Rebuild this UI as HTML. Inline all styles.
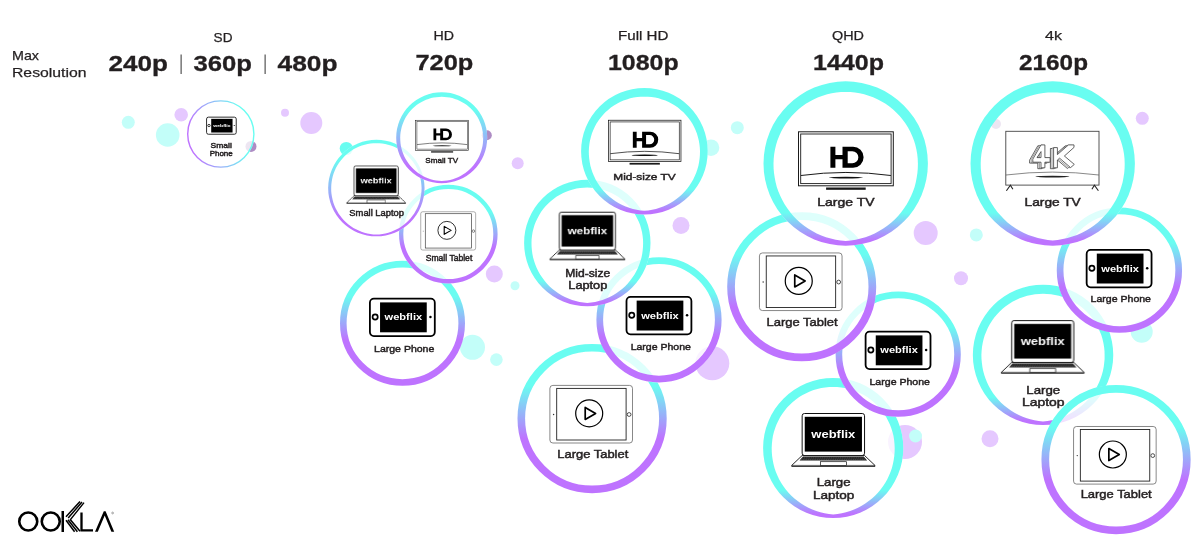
<!DOCTYPE html>
<html lang="en"><head><meta charset="utf-8"><title>Max Resolution by Device</title>
<style>
html,body{margin:0;padding:0;background:#fff;width:1200px;height:550px;overflow:hidden}
svg{display:block;will-change:transform}
text{font-family:"Liberation Sans",sans-serif;fill:#231f20}
.b{font-weight:bold;stroke:#231f20;stroke-width:0.3px}
.l{stroke:#231f20;stroke-width:0.45px;paint-order:stroke;text-anchor:middle}
.r{stroke:#231f20;stroke-width:0.25px}
.m{text-anchor:middle}
.wf{font-weight:bold;fill:#fff;text-anchor:middle}
</style></head><body>
<svg width="1200" height="550" viewBox="0 0 1200 550">
<defs>
<linearGradient id="gA" x1="0" y1="0" x2="0" y2="1"><stop offset="0.27" stop-color="#69fdf1"/><stop offset="0.64" stop-color="#be73ff"/></linearGradient>
<linearGradient id="gB" x1="0" y1="0" x2="0" y2="1"><stop offset="0.8" stop-color="#69fdf1"/><stop offset="0.97" stop-color="#be73ff"/></linearGradient>
<linearGradient id="gS" x1="0" y1="0" x2="0" y2="1"><stop offset="0.2" stop-color="#69fdf1"/><stop offset="0.8" stop-color="#be73ff"/></linearGradient>
<linearGradient id="gD" x1="0" y1="0" x2="0" y2="1"><stop offset="0.3" stop-color="#69fdf1"/><stop offset="0.75" stop-color="#be73ff"/></linearGradient>
<linearGradient id="gH" x1="0" y1="0.6" x2="1" y2="0.4"><stop offset="0.05" stop-color="#be73ff"/><stop offset="0.85" stop-color="#69fdf1"/></linearGradient>
<g id="tvhd">
<rect x="-47.4" y="-27" width="94.8" height="54" fill="#fff" stroke="#1a1a1a" stroke-width="1"/>
<rect x="-45.2" y="-24.8" width="90.4" height="49.6" fill="none" stroke="#1a1a1a" stroke-width="0.9"/>
<path d="M-45,16.7 Q0,10.6 45,16.7" fill="none" stroke="#1a1a1a" stroke-width="1"/>
<ellipse cx="0" cy="18.8" rx="17" ry="0.9" fill="#111"/>
<rect x="-19.8" y="28.7" width="39.6" height="2.3" fill="#1a1a1a"/>
<path fill="#000" fill-rule="evenodd" d="M-15.5,-12.1 h5 v8.2 h7.1 v-8.2 H7.15 A10.55,10.55 0 0 1 7.15,9 H-3.4 v-8.5 h-7.1 V9 h-5 Z M1.8,-7.6 V4.5 H6.4 A6.05,6.05 0 0 0 6.4,-7.6 Z"/>
</g>
<g id="tv4k">
<rect x="-46.6" y="-26.9" width="93.2" height="53.8" fill="#fff" stroke="#444" stroke-width="0.9"/>
<path d="M-46.5,16.8 Q0,11 46.5,16.8" fill="none" stroke="#555" stroke-width="0.7"/>
<ellipse cx="0" cy="18.4" rx="17" ry="0.8" fill="#222"/>
<path d="M-46,32.5 L-42,27 L-39.5,31" fill="none" stroke="#222" stroke-width="1.1"/>
<path d="M46,32.5 L42,27 L39.5,31" fill="none" stroke="#222" stroke-width="1.1"/>
<g fill="#fff" stroke="#333" stroke-width="0.75" stroke-linejoin="round" fill-rule="evenodd">
<path transform="translate(-3.2,0.9)" d="M-11.4,-13.3 L-7.5,-13.3 L-7.5,-0.6 L-2.3,-0.6 L-2.3,4.0 L-7.5,4.0 L-7.5,9.6 L-11.4,9.6 L-11.4,4.0 L-19.6,4.0 L-19.6,1.0 Z M-11.4,-6.6 L-11.4,-0.6 L-15.4,-0.6 Z M1.2,-10.6 L5.0,-10.6 L5.0,-3.6 L16.1,-13.3 L21.6,-13.3 L21.6,-10.8 L12.0,-2.2 L21.9,6.2 L18.2,9.4 L7.2,0.0 L5.0,1.8 L5.0,9.6 L1.2,9.6 Z"/>
<path transform="translate(-1.6,0.45)" d="M-11.4,-13.3 L-7.5,-13.3 L-7.5,-0.6 L-2.3,-0.6 L-2.3,4.0 L-7.5,4.0 L-7.5,9.6 L-11.4,9.6 L-11.4,4.0 L-19.6,4.0 L-19.6,1.0 Z M-11.4,-6.6 L-11.4,-0.6 L-15.4,-0.6 Z M1.2,-10.6 L5.0,-10.6 L5.0,-3.6 L16.1,-13.3 L21.6,-13.3 L21.6,-10.8 L12.0,-2.2 L21.9,6.2 L18.2,9.4 L7.2,0.0 L5.0,1.8 L5.0,9.6 L1.2,9.6 Z" stroke-width="0.5"/>
<path d="M-11.4,-13.3 L-7.5,-13.3 L-7.5,-0.6 L-2.3,-0.6 L-2.3,4.0 L-7.5,4.0 L-7.5,9.6 L-11.4,9.6 L-11.4,4.0 L-19.6,4.0 L-19.6,1.0 Z M-11.4,-6.6 L-11.4,-0.6 L-15.4,-0.6 Z M1.2,-10.6 L5.0,-10.6 L5.0,-3.6 L16.1,-13.3 L21.6,-13.3 L21.6,-10.8 L12.0,-2.2 L21.9,6.2 L18.2,9.4 L7.2,0.0 L5.0,1.8 L5.0,9.6 L1.2,9.6 Z"/>
</g>
</g>
<g id="laptop">
<rect x="-31.2" y="-25.5" width="62.4" height="42" rx="2.3" fill="#fff" stroke="#111" stroke-width="1"/>
<rect x="-28.6" y="-22.2" width="57.2" height="34.8" fill="#000"/>
<path d="M-31.2,16.5 H31.2 L41.6,26.4 V27.4 H-41.6 V26.4 Z" fill="#fff" stroke="#111" stroke-width="0.9" stroke-linejoin="round"/>
<path d="M-41.6,26.4 H41.6" stroke="#111" stroke-width="0.6"/>
<path d="M-30.4,17.5 H30.4 L33.8,21.6 H-33.8 Z" fill="#1c1c1c"/>
<path d="M-31.4,18.9 H31.4 M-32.6,20.3 H32.6" stroke="#aaa" stroke-width="0.35" stroke-dasharray="1.3,0.5"/>
<rect x="-13" y="22.7" width="26" height="3.8" fill="#fff" stroke="#111" stroke-width="0.7"/>
<text class="wf" x="0" y="-1.5" font-size="11.4" textLength="44" lengthAdjust="spacingAndGlyphs">webflix</text>
</g>
<g id="tablet">
<rect x="-41.3" y="-28.8" width="82.6" height="57.6" rx="3" fill="#fff" stroke="#555" stroke-width="0.7"/>
<rect x="-34.5" y="-25.8" width="69.4" height="51.6" fill="#fff" stroke="#222" stroke-width="0.9"/>
<circle cx="-2" cy="-0.8" r="13.5" fill="none" stroke="#000" stroke-width="1.2"/>
<path d="M-6,-6.8 L4.4,-0.8 L-6,5.2 Z" fill="none" stroke="#000" stroke-width="1.7" stroke-linejoin="round"/>
<circle cx="-37.6" cy="0.3" r="0.7" fill="#333"/>
<circle cx="37.9" cy="0.3" r="1.9" fill="#fff" stroke="#222" stroke-width="0.8"/>
</g>
<g id="phone">
<rect x="-32.45" y="-18.7" width="64.9" height="37.4" rx="4" fill="#fff" stroke="#000" stroke-width="1.8"/>
<rect x="-22.3" y="-15" width="46.7" height="29.9" fill="#000"/>
<circle cx="-27.2" cy="-0.4" r="2.6" fill="#fff" stroke="#000" stroke-width="1.7"/>
<circle cx="28.1" cy="-0.4" r="1.25" fill="#000"/>
<text class="wf" x="1" y="3" font-size="9.4" textLength="37.6" lengthAdjust="spacingAndGlyphs">webflix</text>
</g>
</defs>
<g id="dots">
<circle cx="128.3" cy="122.3" r="6.5" fill="#c3fef9"/>
<circle cx="167.7" cy="135" r="11.8" fill="#c3fef9"/>
<circle cx="181.2" cy="114.8" r="6.8" fill="#e5c8ff"/>
<circle cx="251" cy="146.4" r="5.5" fill="#ae8cc4"/>
<circle cx="285" cy="112.8" r="4" fill="#e5c8ff"/>
<circle cx="311.3" cy="123" r="11" fill="#e5c8ff"/>
<circle cx="346.3" cy="148.5" r="6.6" fill="#69fdf1"/>
<circle cx="486.8" cy="135.2" r="5" fill="#ae8cc4"/>
<circle cx="494.3" cy="274" r="8.5" fill="#e5c8ff"/>
<circle cx="515" cy="285.7" r="4.5" fill="#c3fef9"/>
<circle cx="472.5" cy="347.3" r="12.5" fill="#c3fef9"/>
<circle cx="496.4" cy="359.6" r="6.3" fill="#c3fef9"/>
<circle cx="517.7" cy="163.3" r="6" fill="#e5c8ff"/>
<circle cx="681" cy="225.5" r="8.5" fill="#e5c8ff"/>
<circle cx="711" cy="147.7" r="8.3" fill="#c3fef9"/>
<circle cx="737.3" cy="127.7" r="6.5" fill="#c3fef9"/>
<circle cx="712.3" cy="363.3" r="17" fill="#e5c8ff"/>
<circle cx="925.7" cy="233.1" r="12" fill="#e5c8ff"/>
<circle cx="976.3" cy="234.9" r="6.5" fill="#c3fef9"/>
<circle cx="961" cy="278.3" r="7" fill="#e5c8ff"/>
<circle cx="996" cy="124" r="5" fill="#ae8cc4"/>
<circle cx="1142.3" cy="118.3" r="6.5" fill="#e5c8ff"/>
<circle cx="1141.7" cy="331.7" r="11" fill="#c3fef9"/>
<circle cx="990" cy="438.7" r="8.5" fill="#e5c8ff"/>
<circle cx="905" cy="442" r="17" fill="#e5c8ff"/>
<circle cx="915.5" cy="436" r="6.5" fill="#c3fef9"/>
</g>
<g id="b-sp">
<circle cx="220.8" cy="134" r="33.8" fill="#fff" fill-opacity="0.78"/>
<circle cx="220.8" cy="134" r="33.1" fill="none" stroke="url(#gH)" stroke-width="1.4"/>
<use href="#phone" transform="translate(221.4,125.7) scale(0.457)"/>
<text class="l" x="221.2" y="147.5" font-size="7.5" textLength="21.2" lengthAdjust="spacingAndGlyphs">Small</text>
<text class="l" x="221.2" y="155.5" font-size="7.5" textLength="23.1" lengthAdjust="spacingAndGlyphs">Phone</text>
</g>
<g id="b-lph7">
<circle cx="402.5" cy="323.3" r="62.5" fill="#fff" fill-opacity="0.78"/>
<circle cx="402.5" cy="323.3" r="59.2" fill="none" stroke="url(#gA)" stroke-width="6.6"/>
<use href="#phone" transform="translate(402.35,317.4) scale(1)"/>
<text class="l" x="404.2" y="351.7" font-size="9.5" textLength="60.3" lengthAdjust="spacingAndGlyphs">Large Phone</text>
</g>
<g id="b-stab">
<circle cx="448.3" cy="234.1" r="49.3" fill="#fff" fill-opacity="0.78"/>
<circle cx="448.3" cy="234.1" r="47.15" fill="none" stroke="url(#gA)" stroke-width="4.3"/>
<use href="#tablet" transform="translate(448.2,230.9) scale(0.665)"/>
<text class="l" x="449" y="260.6" font-size="8.2" textLength="46.6" lengthAdjust="spacingAndGlyphs">Small Tablet</text>
</g>
<g id="b-slap">
<circle cx="376.35" cy="188.1" r="48.2" fill="#fff" fill-opacity="0.78"/>
<path fill-rule="evenodd" fill="url(#gS)" d="M328.15000000000003,188.1 a48.2,48.2 0 1,0 96.4,0 a48.2,48.2 0 1,0 -96.4,0 Z M376.4,143.2 L379.3,143.3 L382.2,143.6 L385.1,144.0 L388.0,144.7 L390.8,145.5 L393.6,146.5 L396.2,147.8 L398.9,149.1 L401.4,150.7 L403.8,152.4 L406.0,154.2 L408.2,156.2 L410.2,158.4 L412.1,160.7 L413.8,163.1 L415.4,165.5 L416.8,168.1 L418.0,170.8 L419.1,173.6 L420.0,176.4 L420.6,179.3 L421.1,182.2 L421.4,185.1 L421.6,188.1 L421.5,191.1 L421.2,194.0 L420.7,196.9 L420.1,199.8 L419.3,202.7 L418.3,205.5 L417.1,208.2 L415.7,210.8 L414.2,213.4 L412.5,215.8 L410.6,218.2 L408.6,220.4 L406.5,222.5 L404.2,224.4 L401.8,226.2 L399.3,227.9 L396.7,229.3 L394.0,230.6 L391.2,231.8 L388.3,232.7 L385.4,233.5 L382.4,234.0 L379.4,234.4 L376.4,234.6 L373.3,234.4 L370.3,234.0 L367.3,233.5 L364.4,232.7 L361.5,231.8 L358.7,230.6 L356.0,229.3 L353.4,227.9 L350.9,226.2 L348.5,224.4 L346.2,222.5 L344.1,220.4 L342.1,218.2 L340.2,215.8 L338.5,213.4 L337.0,210.8 L335.6,208.2 L334.4,205.5 L333.4,202.7 L332.6,199.8 L332.0,196.9 L331.5,194.0 L331.2,191.1 L331.2,188.1 L331.3,185.1 L331.6,182.2 L332.1,179.3 L332.7,176.4 L333.6,173.6 L334.7,170.8 L335.9,168.1 L337.3,165.5 L338.9,163.1 L340.6,160.7 L342.5,158.4 L344.5,156.2 L346.7,154.2 L348.9,152.4 L351.3,150.7 L353.9,149.1 L356.5,147.8 L359.1,146.5 L361.9,145.5 L364.7,144.7 L367.6,144.0 L370.5,143.6 L373.4,143.3 Z"/>
<use href="#laptop" transform="translate(376.15,184.05) scale(0.708)"/>
<text class="l" x="376.7" y="215.6" font-size="8.6" textLength="54.7" lengthAdjust="spacingAndGlyphs">Small Laptop</text>
</g>
<g id="b-stv">
<circle cx="441.7" cy="137.75" r="45.5" fill="#fff" fill-opacity="0.78"/>
<path fill-rule="evenodd" fill="url(#gS)" d="M396.2,137.75 a45.5,45.5 0 1,0 91.0,0 a45.5,45.5 0 1,0 -91.0,0 Z M441.7,96.8 L444.4,96.9 L447.0,97.2 L449.7,97.6 L452.3,98.1 L454.9,98.9 L457.4,99.8 L459.9,100.9 L462.2,102.2 L464.5,103.6 L466.8,105.1 L468.8,106.8 L470.8,108.6 L472.7,110.6 L474.4,112.6 L476.0,114.8 L477.5,117.1 L478.8,119.5 L479.9,121.9 L480.9,124.5 L481.7,127.0 L482.3,129.7 L482.8,132.3 L483.1,135.0 L483.2,137.8 L483.1,140.5 L482.9,143.2 L482.5,145.9 L481.9,148.5 L481.2,151.1 L480.2,153.7 L479.2,156.2 L477.9,158.7 L476.5,161.0 L475.0,163.3 L473.3,165.5 L471.5,167.5 L469.5,169.5 L467.5,171.3 L465.3,173.0 L462.9,174.5 L460.5,175.9 L458.0,177.2 L455.4,178.2 L452.8,179.2 L450.1,179.9 L447.3,180.5 L444.5,180.8 L441.7,181.1 L438.9,180.8 L436.1,180.5 L433.3,179.9 L430.6,179.2 L428.0,178.2 L425.4,177.2 L422.9,175.9 L420.5,174.5 L418.1,173.0 L415.9,171.3 L413.9,169.5 L411.9,167.5 L410.1,165.5 L408.4,163.3 L406.9,161.0 L405.5,158.7 L404.2,156.2 L403.2,153.7 L402.2,151.1 L401.5,148.5 L400.9,145.9 L400.5,143.2 L400.3,140.5 L400.2,137.8 L400.3,135.0 L400.6,132.3 L401.1,129.7 L401.7,127.0 L402.5,124.5 L403.5,121.9 L404.6,119.5 L405.9,117.1 L407.4,114.8 L409.0,112.6 L410.7,110.6 L412.6,108.6 L414.6,106.8 L416.6,105.1 L418.9,103.6 L421.1,102.2 L423.5,100.9 L426.0,99.8 L428.5,98.9 L431.1,98.1 L433.7,97.6 L436.4,97.2 L439.0,96.9 Z"/>
<use href="#tvhd" transform="translate(442.1,135.3) scale(0.557)"/>
<text class="l" x="441.7" y="163.1" font-size="8" textLength="32.7" lengthAdjust="spacingAndGlyphs">Small TV</text>
</g>
<g id="b-ltab10">
<circle cx="592.1" cy="418.6" r="74.6" fill="#fff" fill-opacity="0.78"/>
<circle cx="592.1" cy="418.6" r="70.8" fill="none" stroke="url(#gA)" stroke-width="7.6"/>
<use href="#tablet" transform="translate(591.2,414.2) scale(1.0)"/>
<text class="l" x="592.8" y="458.3" font-size="11" textLength="71" lengthAdjust="spacingAndGlyphs">Large Tablet</text>
</g>
<g id="b-lph10">
<circle cx="659" cy="319.8" r="62.6" fill="#fff" fill-opacity="0.78"/>
<circle cx="659" cy="319.8" r="59.25" fill="none" stroke="url(#gA)" stroke-width="6.7"/>
<use href="#phone" transform="translate(658.95,315.6) scale(1)"/>
<text class="l" x="660.8" y="350.0" font-size="9.5" textLength="60.3" lengthAdjust="spacingAndGlyphs">Large Phone</text>
</g>
<g id="b-mlap">
<circle cx="587.3" cy="243" r="63.2" fill="#fff" fill-opacity="0.78"/>
<path fill-rule="evenodd" fill="url(#gB)" d="M524.0999999999999,243 a63.2,63.2 0 1,0 126.4,0 a63.2,63.2 0 1,0 -126.4,0 Z M587.3,187.6 L590.9,187.7 L594.5,188.0 L598.1,188.6 L601.7,189.4 L605.1,190.5 L608.5,191.7 L611.9,193.2 L615.1,194.9 L618.2,196.8 L621.1,198.9 L623.9,201.2 L626.6,203.7 L629.1,206.3 L631.4,209.1 L633.6,212.1 L635.5,215.2 L637.2,218.4 L638.8,221.7 L640.1,225.1 L641.1,228.6 L642.0,232.1 L642.6,235.7 L643.0,239.4 L643.1,243.0 L643.0,246.7 L642.7,250.3 L642.2,253.9 L641.5,257.5 L640.5,261.1 L639.3,264.5 L637.9,268.0 L636.3,271.3 L634.5,274.5 L632.4,277.6 L630.2,280.6 L627.8,283.5 L625.2,286.2 L622.4,288.7 L619.4,291.1 L616.3,293.3 L613.1,295.2 L609.7,297.0 L606.2,298.6 L602.5,299.9 L598.8,301.0 L595.1,301.9 L591.2,302.5 L587.3,302.9 L583.4,302.5 L579.5,301.9 L575.8,301.0 L572.1,299.9 L568.4,298.6 L564.9,297.0 L561.5,295.2 L558.3,293.3 L555.2,291.1 L552.2,288.7 L549.4,286.2 L546.8,283.5 L544.4,280.6 L542.2,277.6 L540.1,274.5 L538.3,271.3 L536.7,268.0 L535.3,264.5 L534.1,261.1 L533.1,257.5 L532.4,253.9 L531.9,250.3 L531.6,246.7 L531.5,243.0 L531.6,239.4 L532.0,235.7 L532.6,232.1 L533.5,228.6 L534.5,225.1 L535.8,221.7 L537.4,218.4 L539.1,215.2 L541.0,212.1 L543.2,209.1 L545.5,206.3 L548.0,203.7 L550.7,201.2 L553.5,198.9 L556.4,196.8 L559.5,194.9 L562.7,193.2 L566.1,191.7 L569.5,190.5 L572.9,189.4 L576.5,188.6 L580.1,188.0 L583.7,187.7 Z"/>
<use href="#laptop" transform="translate(587.4,235.15) scale(0.9)"/>
<text class="l" x="587.8" y="277.3" font-size="10.3" textLength="45" lengthAdjust="spacingAndGlyphs">Mid-size</text>
<text class="l" x="587.8" y="289.3" font-size="10.3" textLength="39" lengthAdjust="spacingAndGlyphs">Laptop</text>
</g>
<g id="b-mtv">
<circle cx="644.4" cy="151.25" r="63.3" fill="#fff" fill-opacity="0.78"/>
<path fill-rule="evenodd" fill="url(#gB)" d="M581.1,151.25 a63.3,63.3 0 1,0 126.6,0 a63.3,63.3 0 1,0 -126.6,0 Z M644.4,96.7 L648.0,96.7 L651.5,97.0 L655.1,97.6 L658.6,98.3 L662.0,99.4 L665.4,100.6 L668.7,102.0 L671.9,103.7 L674.9,105.5 L677.9,107.6 L680.7,109.9 L683.4,112.3 L685.9,114.9 L688.2,117.7 L690.3,120.6 L692.3,123.6 L694.0,126.8 L695.5,130.1 L696.9,133.4 L697.9,136.9 L698.8,140.4 L699.4,144.0 L699.8,147.6 L700.0,151.2 L699.9,154.9 L699.6,158.5 L699.1,162.1 L698.4,165.7 L697.4,169.2 L696.2,172.7 L694.8,176.1 L693.2,179.4 L691.4,182.6 L689.3,185.7 L687.1,188.7 L684.7,191.5 L682.1,194.2 L679.3,196.7 L676.4,199.1 L673.3,201.2 L670.0,203.2 L666.6,205.0 L663.2,206.5 L659.6,207.8 L655.9,208.9 L652.1,209.8 L648.3,210.4 L644.4,210.8 L640.5,210.4 L636.7,209.8 L632.9,208.9 L629.2,207.8 L625.6,206.5 L622.2,205.0 L618.8,203.2 L615.5,201.2 L612.4,199.1 L609.5,196.7 L606.7,194.2 L604.1,191.5 L601.7,188.7 L599.5,185.7 L597.4,182.6 L595.6,179.4 L594.0,176.1 L592.6,172.7 L591.4,169.2 L590.4,165.7 L589.7,162.1 L589.2,158.5 L588.9,154.9 L588.8,151.2 L589.0,147.6 L589.4,144.0 L590.0,140.4 L590.9,136.9 L591.9,133.4 L593.3,130.1 L594.8,126.8 L596.5,123.6 L598.5,120.6 L600.6,117.7 L602.9,114.9 L605.4,112.3 L608.1,109.9 L610.9,107.6 L613.9,105.5 L616.9,103.7 L620.1,102.0 L623.4,100.6 L626.8,99.4 L630.2,98.3 L633.7,97.6 L637.3,97.0 L640.8,96.7 Z"/>
<use href="#tvhd" transform="translate(644.7,140.9) scale(0.765)"/>
<text class="l" x="644.5" y="180.0" font-size="9.3" textLength="62.4" lengthAdjust="spacingAndGlyphs">Mid-size TV</text>
</g>
<g id="b-llap14">
<circle cx="833.2" cy="448" r="70.1" fill="#fff" fill-opacity="0.78"/>
<path fill-rule="evenodd" fill="url(#gB)" d="M763.1,448 a70.1,70.1 0 1,0 140.2,0 a70.1,70.1 0 1,0 -140.2,0 Z M833.2,387.0 L837.2,387.1 L841.2,387.5 L845.1,388.1 L849.0,389.0 L852.8,390.1 L856.6,391.5 L860.2,393.2 L863.8,395.0 L867.2,397.1 L870.5,399.4 L873.6,402.0 L876.5,404.7 L879.3,407.6 L881.8,410.7 L884.2,413.9 L886.3,417.3 L888.2,420.9 L889.9,424.5 L891.3,428.3 L892.5,432.1 L893.5,436.0 L894.1,440.0 L894.5,444.0 L894.7,448.0 L894.6,452.0 L894.3,456.0 L893.7,460.0 L892.9,464.0 L891.9,467.9 L890.6,471.8 L889.0,475.5 L887.3,479.2 L885.3,482.8 L883.0,486.2 L880.6,489.6 L877.9,492.7 L875.0,495.7 L872.0,498.5 L868.7,501.1 L865.3,503.6 L861.7,505.8 L858.0,507.8 L854.1,509.5 L850.1,511.0 L846.0,512.3 L841.8,513.2 L837.5,514.0 L833.2,514.4 L828.9,514.0 L824.6,513.2 L820.4,512.3 L816.3,511.0 L812.3,509.5 L808.4,507.8 L804.7,505.8 L801.1,503.6 L797.7,501.1 L794.4,498.5 L791.4,495.7 L788.5,492.7 L785.8,489.6 L783.4,486.2 L781.1,482.8 L779.1,479.2 L777.4,475.5 L775.8,471.8 L774.5,467.9 L773.5,464.0 L772.7,460.0 L772.1,456.0 L771.8,452.0 L771.7,448.0 L771.9,444.0 L772.3,440.0 L772.9,436.0 L773.9,432.1 L775.1,428.3 L776.5,424.5 L778.2,420.9 L780.1,417.3 L782.2,413.9 L784.6,410.7 L787.1,407.6 L789.9,404.7 L792.8,402.0 L795.9,399.4 L799.2,397.1 L802.6,395.0 L806.2,393.2 L809.8,391.5 L813.6,390.1 L817.4,389.0 L821.3,388.1 L825.2,387.5 L829.2,387.1 Z"/>
<use href="#laptop" transform="translate(833.35,439) scale(1)"/>
<text class="l" x="833.6" y="485.6" font-size="11" textLength="33.8" lengthAdjust="spacingAndGlyphs">Large</text>
<text class="l" x="833.6" y="499.0" font-size="11" textLength="41.4" lengthAdjust="spacingAndGlyphs">Laptop</text>
</g>
<g id="b-lph14">
<circle cx="898.2" cy="354.2" r="62.6" fill="#fff" fill-opacity="0.78"/>
<circle cx="898.2" cy="354.2" r="59.3" fill="none" stroke="url(#gA)" stroke-width="6.6"/>
<use href="#phone" transform="translate(898.05,350.4) scale(1)"/>
<text class="l" x="899.75" y="385.0" font-size="9.5" textLength="60.5" lengthAdjust="spacingAndGlyphs">Large Phone</text>
</g>
<g id="b-ltab14">
<circle cx="801.7" cy="286.8" r="74.5" fill="#fff" fill-opacity="0.78"/>
<circle cx="801.7" cy="286.8" r="70.65" fill="none" stroke="url(#gA)" stroke-width="7.7"/>
<use href="#tablet" transform="translate(800.75,281.75) scale(1)"/>
<text class="l" x="802.1" y="325.5" font-size="11" textLength="71.2" lengthAdjust="spacingAndGlyphs">Large Tablet</text>
</g>
<g id="b-ltv14">
<circle cx="845.7" cy="163.5" r="82.2" fill="#fff" fill-opacity="0.78"/>
<path fill-rule="evenodd" fill="url(#gB)" d="M763.5,163.5 a82.2,82.2 0 1,0 164.4,0 a82.2,82.2 0 1,0 -164.4,0 Z M845.7,92.0 L850.4,92.1 L855.0,92.6 L859.7,93.3 L864.2,94.3 L868.7,95.7 L873.1,97.3 L877.4,99.2 L881.6,101.4 L885.6,103.8 L889.4,106.5 L893.1,109.5 L896.5,112.7 L899.7,116.1 L902.7,119.7 L905.5,123.5 L908.0,127.5 L910.3,131.7 L912.2,135.9 L913.9,140.3 L915.3,144.8 L916.4,149.4 L917.2,154.1 L917.7,158.8 L917.9,163.5 L917.8,168.2 L917.4,172.9 L916.7,177.6 L915.8,182.3 L914.6,186.9 L913.0,191.4 L911.2,195.8 L909.1,200.1 L906.8,204.3 L904.1,208.3 L901.2,212.2 L898.1,215.9 L894.7,219.4 L891.1,222.7 L887.3,225.8 L883.3,228.6 L879.1,231.1 L874.7,233.4 L870.1,235.5 L865.4,237.2 L860.6,238.6 L855.7,239.8 L850.8,240.6 L845.7,241.1 L840.6,240.6 L835.7,239.8 L830.8,238.6 L826.0,237.2 L821.3,235.5 L816.7,233.4 L812.3,231.1 L808.1,228.6 L804.1,225.8 L800.3,222.7 L796.7,219.4 L793.3,215.9 L790.2,212.2 L787.3,208.3 L784.6,204.3 L782.3,200.1 L780.2,195.8 L778.4,191.4 L776.8,186.9 L775.6,182.3 L774.7,177.6 L774.0,172.9 L773.6,168.2 L773.5,163.5 L773.7,158.8 L774.2,154.1 L775.0,149.4 L776.1,144.8 L777.5,140.3 L779.2,135.9 L781.1,131.7 L783.4,127.5 L785.9,123.5 L788.7,119.7 L791.7,116.1 L794.9,112.7 L798.3,109.5 L802.0,106.5 L805.8,103.8 L809.8,101.4 L814.0,99.2 L818.3,97.3 L822.7,95.7 L827.2,94.3 L831.7,93.3 L836.4,92.6 L841.0,92.1 Z"/>
<use href="#tvhd" transform="translate(845.9,158.8) scale(1)"/>
<text class="l" x="845.9" y="205.8" font-size="11" textLength="57.2" lengthAdjust="spacingAndGlyphs">Large TV</text>
</g>
<g id="b-llap4">
<circle cx="1043.05" cy="354.9" r="70.2" fill="#fff" fill-opacity="0.78"/>
<path fill-rule="evenodd" fill="url(#gB)" d="M972.8499999999999,354.9 a70.2,70.2 0 1,0 140.4,0 a70.2,70.2 0 1,0 -140.4,0 Z M1043.0,293.8 L1047.0,293.9 L1051.0,294.3 L1055.0,294.9 L1058.9,295.8 L1062.7,296.9 L1066.5,298.3 L1070.1,300.0 L1073.7,301.8 L1077.1,303.9 L1080.4,306.3 L1083.5,308.8 L1086.4,311.5 L1089.2,314.4 L1091.8,317.5 L1094.1,320.8 L1096.3,324.2 L1098.2,327.7 L1099.8,331.4 L1101.3,335.1 L1102.5,339.0 L1103.4,342.9 L1104.1,346.9 L1104.5,350.9 L1104.6,354.9 L1104.6,358.9 L1104.2,363.0 L1103.7,367.0 L1102.9,370.9 L1101.8,374.9 L1100.5,378.7 L1099.0,382.5 L1097.2,386.2 L1095.2,389.7 L1093.0,393.2 L1090.5,396.5 L1087.8,399.7 L1085.0,402.7 L1081.9,405.5 L1078.6,408.1 L1075.2,410.6 L1071.6,412.8 L1067.8,414.8 L1064.0,416.5 L1060.0,418.0 L1055.8,419.2 L1051.7,420.2 L1047.4,421.0 L1043.0,421.4 L1038.7,421.0 L1034.4,420.2 L1030.3,419.2 L1026.1,418.0 L1022.1,416.5 L1018.3,414.8 L1014.5,412.8 L1010.9,410.6 L1007.5,408.1 L1004.2,405.5 L1001.1,402.7 L998.3,399.7 L995.6,396.5 L993.1,393.2 L990.9,389.7 L988.9,386.2 L987.1,382.5 L985.6,378.7 L984.3,374.9 L983.2,370.9 L982.4,367.0 L981.9,363.0 L981.5,358.9 L981.4,354.9 L981.6,350.9 L982.0,346.9 L982.7,342.9 L983.6,339.0 L984.8,335.1 L986.3,331.4 L987.9,327.7 L989.8,324.2 L992.0,320.8 L994.3,317.5 L996.9,314.4 L999.7,311.5 L1002.6,308.8 L1005.7,306.3 L1009.0,303.9 L1012.4,301.8 L1016.0,300.0 L1019.6,298.3 L1023.4,296.9 L1027.2,295.8 L1031.1,294.9 L1035.1,294.3 L1039.1,293.9 Z"/>
<use href="#laptop" transform="translate(1042.7,346.0) scale(0.995)"/>
<text class="l" x="1043.3" y="393.6" font-size="11" textLength="33.9" lengthAdjust="spacingAndGlyphs">Large</text>
<text class="l" x="1043.3" y="406.0" font-size="11" textLength="42.6" lengthAdjust="spacingAndGlyphs">Laptop</text>
</g>
<g id="b-lph4">
<circle cx="1119.4" cy="270.2" r="62.65" fill="#fff" fill-opacity="0.78"/>
<circle cx="1119.4" cy="270.2" r="59.3" fill="none" stroke="url(#gA)" stroke-width="6.7"/>
<use href="#phone" transform="translate(1119.1,268.6) scale(1)"/>
<text class="l" x="1120.8" y="302.4" font-size="9.5" textLength="60.4" lengthAdjust="spacingAndGlyphs">Large Phone</text>
</g>
<g id="b-ltab4">
<circle cx="1116.05" cy="459.6" r="74.6" fill="#fff" fill-opacity="0.78"/>
<circle cx="1116.05" cy="459.6" r="70.75" fill="none" stroke="url(#gA)" stroke-width="7.7"/>
<use href="#tablet" transform="translate(1114.85,455.3) scale(1.0)"/>
<text class="l" x="1116.2" y="498.4" font-size="11" textLength="71.1" lengthAdjust="spacingAndGlyphs">Large Tablet</text>
</g>
<g id="b-ltv4">
<circle cx="1052.7" cy="163.5" r="82.2" fill="#fff" fill-opacity="0.78"/>
<path fill-rule="evenodd" fill="url(#gB)" d="M970.5,163.5 a82.2,82.2 0 1,0 164.4,0 a82.2,82.2 0 1,0 -164.4,0 Z M1052.7,92.4 L1057.4,92.5 L1062.0,92.9 L1066.6,93.7 L1071.1,94.7 L1075.6,96.0 L1080.0,97.6 L1084.3,99.5 L1088.4,101.7 L1092.4,104.1 L1096.2,106.8 L1099.9,109.7 L1103.3,112.9 L1106.5,116.3 L1109.5,119.9 L1112.3,123.7 L1114.8,127.6 L1117.0,131.8 L1119.0,136.0 L1120.7,140.4 L1122.1,144.9 L1123.2,149.5 L1124.0,154.1 L1124.5,158.8 L1124.7,163.5 L1124.6,168.2 L1124.2,172.9 L1123.5,177.6 L1122.6,182.2 L1121.3,186.8 L1119.8,191.3 L1118.0,195.7 L1115.9,200.0 L1113.5,204.1 L1110.9,208.1 L1108.0,212.0 L1104.8,215.6 L1101.5,219.1 L1097.9,222.4 L1094.0,225.4 L1090.0,228.2 L1085.8,230.7 L1081.5,233.0 L1077.0,234.9 L1072.3,236.6 L1067.5,238.1 L1062.7,239.1 L1057.7,239.9 L1052.7,240.4 L1047.7,239.9 L1042.7,239.1 L1037.9,238.1 L1033.1,236.6 L1028.4,234.9 L1023.9,233.0 L1019.6,230.7 L1015.4,228.2 L1011.4,225.4 L1007.5,222.4 L1003.9,219.1 L1000.6,215.6 L997.4,212.0 L994.5,208.1 L991.9,204.1 L989.5,200.0 L987.4,195.7 L985.6,191.3 L984.1,186.8 L982.8,182.2 L981.9,177.6 L981.2,172.9 L980.8,168.2 L980.7,163.5 L980.9,158.8 L981.4,154.1 L982.2,149.5 L983.3,144.9 L984.7,140.4 L986.4,136.0 L988.4,131.8 L990.6,127.6 L993.1,123.7 L995.9,119.9 L998.9,116.3 L1002.1,112.9 L1005.5,109.7 L1009.2,106.8 L1013.0,104.1 L1017.0,101.7 L1021.1,99.5 L1025.4,97.6 L1029.8,96.0 L1034.3,94.7 L1038.8,93.7 L1043.4,92.9 L1048.0,92.5 Z"/>
<use href="#tv4k" transform="translate(1052.4,158.2) scale(1)"/>
<text class="l" x="1052.7" y="205.8" font-size="11" textLength="56.2" lengthAdjust="spacingAndGlyphs">Large TV</text>
</g>
<g id="header">
<text class="r" x="12" y="60" font-size="13.5" textLength="27" lengthAdjust="spacingAndGlyphs">Max</text>
<text class="r" x="12" y="77" font-size="13.5" textLength="74.4" lengthAdjust="spacingAndGlyphs">Resolution</text>
<text class="r" x="213.6" y="41.6" font-size="13" textLength="18.9" lengthAdjust="spacingAndGlyphs">SD</text>
<text class="b" x="108.6" y="71" font-size="22" textLength="59.4" lengthAdjust="spacingAndGlyphs">240p</text>
<text class="b" x="193.5" y="71" font-size="22" textLength="58.5" lengthAdjust="spacingAndGlyphs">360p</text>
<text class="b" x="277.5" y="71" font-size="22" textLength="60" lengthAdjust="spacingAndGlyphs">480p</text>
<rect x="180.6" y="54.5" width="1" height="19.5" fill="#333"/>
<rect x="264.6" y="54.5" width="1" height="19.5" fill="#333"/>
<text class="r" x="433.5" y="39.5" font-size="13" textLength="20.5" lengthAdjust="spacingAndGlyphs">HD</text>
<text class="b" x="415.5" y="69.5" font-size="22" textLength="57.9" lengthAdjust="spacingAndGlyphs">720p</text>
<text class="r" x="618" y="39.5" font-size="13" textLength="50.4" lengthAdjust="spacingAndGlyphs">Full HD</text>
<text class="b" x="608" y="69.5" font-size="22" textLength="70.6" lengthAdjust="spacingAndGlyphs">1080p</text>
<text class="r" x="832" y="39.5" font-size="13" textLength="32" lengthAdjust="spacingAndGlyphs">QHD</text>
<text class="b" x="813" y="69.5" font-size="22" textLength="71" lengthAdjust="spacingAndGlyphs">1440p</text>
<text class="r" x="1045" y="39.5" font-size="13" textLength="17" lengthAdjust="spacingAndGlyphs">4k</text>
<text class="b" x="1019" y="69.5" font-size="22" textLength="69" lengthAdjust="spacingAndGlyphs">2160p</text>
</g>
<g id="ookla" fill="none" stroke="#000">
<circle cx="28.25" cy="521.5" r="9" stroke-width="2.6"/>
<circle cx="50.75" cy="521.5" r="9" stroke-width="2.6"/>
<path d="M62.75,511 V532" stroke-width="2.5"/>
<path d="M66,516.7 L80,501.6 M68.2,518.1 L82,502.1 M70.4,519.6 L84,502.6" stroke-width="1.5"/>
<path d="M66,520.2 L74.6,531.8 M68,519.7 L77.4,531.8 M70,519.2 L80,531.2" stroke-width="1.5"/>
<path d="M81.5,512.5 V530.4 H93" stroke-width="2.3"/>
<path d="M95,531.8 L103.8,511.3 L105.6,511.3 L114.2,531.8 L111.4,531.8 L104.7,515.6 L97.8,531.8 Z" fill="#000" stroke="none"/>
<circle cx="112.6" cy="513" r="0.9" stroke-width="0.5" stroke="#555"/>
</g>
</svg>
</body></html>
